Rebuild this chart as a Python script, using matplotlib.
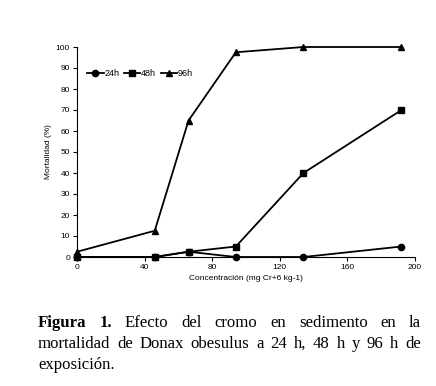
import matplotlib
matplotlib.use("Agg")
import matplotlib.pyplot as plt

conc = [0, 46, 66, 94, 134, 192]
m24 = [0, 0, 2.5, 0, 0, 5]
m48 = [0, 0, 2.5, 5, 40, 70]
m96 = [2.5, 12.5, 65, 97.5, 100, 100]
labels = ["24h", "48h", "96h"]
xticks = [0, 40, 80, 120, 160, 200]
yticks = list(range(0, 101, 10))

W, H = 436, 386
fig = plt.figure(figsize=(W / 100, H / 100), dpi=100)
ax = fig.add_axes([77 / W, 1 - 257 / H, (415 - 77) / W, (257 - 47) / H])

sans = "Liberation Sans"
ax.plot(conc, m24, "-o", color="black", lw=1.3, ms=4.5, label=labels[0])
ax.plot(conc, m48, "-s", color="black", lw=1.3, ms=4.5, label=labels[1])
ax.plot(conc, m96, "-^", color="black", lw=1.3, ms=5, label=labels[2])

ax.set_xlim(0, 200)
ax.set_ylim(0, 100)
ax.set_xticks(xticks)
ax.set_yticks(yticks)
for s in ["top", "right"]:
    ax.spines[s].set_visible(False)
for s in ["left", "bottom"]:
    ax.spines[s].set_linewidth(0.8)
ax.tick_params(direction="out", length=3, width=0.8, labelsize=6, pad=2)
for t in ax.get_xticklabels() + ax.get_yticklabels():
    t.set_fontfamily(sans)
ax.set_xlabel("Concentración (mg Cr+6 kg-1)", fontsize=6, fontfamily=sans, labelpad=3)
ax.set_ylabel("Mortalidad (%)", fontsize=6, fontfamily=sans, labelpad=3)
for l in ax.lines:
    l.set_clip_on(False)

leg = ax.legend(loc="center left", bbox_to_anchor=(0.025, 0.872), ncol=3, frameon=False,
                prop={"family": sans, "size": 6.5}, handlelength=1.8, handletextpad=0.1,
                columnspacing=0.5, borderaxespad=0.0, borderpad=0.2)

# Caption, justified
serif = "Liberation Serif"
fs = 12.1
renderer = fig.canvas.get_renderer()
x0, x1 = 38, 421
lines = [
    ([("Figura", True), ("1.", True), ("Efecto", False), ("del", False), ("cromo", False),
      ("en", False), ("sedimento", False), ("en", False), ("la", False)], True, 327),
    ([("mortalidad", False), ("de", False), ("Donax", False), ("obesulus", False), ("a", False),
      ("24", False), ("h,", False), ("48", False), ("h", False), ("y", False), ("96", False),
      ("h", False), ("de", False)], True, 348),
    ([("exposición.", False)], False, 369),
]
for words, justify, ypix in lines:
    texts = []
    for w, bold in words:
        t = fig.text(0, 1 - ypix / H, w, fontsize=fs, fontfamily=serif,
                     fontweight="bold" if bold else "normal", va="baseline")
        texts.append(t)
    widths = [t.get_window_extent(renderer).width for t in texts]
    if justify and len(texts) > 1:
        gap = (x1 - x0 - sum(widths)) / (len(texts) - 1)
    else:
        gap = 3
    x = x0
    for t, w in zip(texts, widths):
        t.set_x(x / W)
        x += w + gap

fig.savefig("out.png", dpi=100)
